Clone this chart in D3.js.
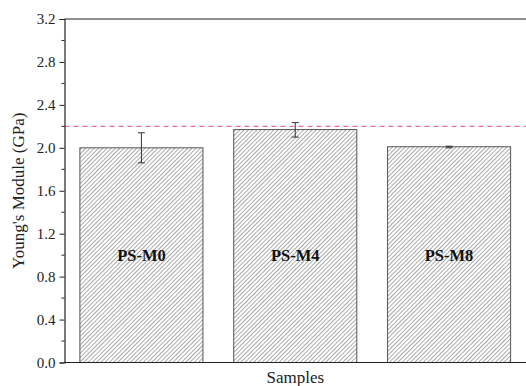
<!DOCTYPE html>
<html>
<head>
<meta charset="utf-8">
<script src="https://cdn.jsdelivr.net/npm/d3@7"></script>
<style>
  body { margin: 0; background: #fff; }
  text { font-family: "Liberation Serif", "Times New Roman", serif; }
</style>
</head>
<body>
<div id="chart"></div>
<script>
// data
const samples = ["PS-M0", "PS-M4", "PS-M8"];
const modulus = [2.00, 2.17, 2.01];
const errLow = [1.86, 2.10, 2.00];
const errHigh = [2.14, 2.235, 2.015];
const refLine = 2.2;
const yTicks = [0.0, 0.4, 0.8, 1.2, 1.6, 2.0, 2.4, 2.8, 3.2];

const W = 526, H = 386;
const margin = {top: 19, right: 0, bottom: 23.5, left: 64.5};

const svg = d3.select("#chart").append("svg")
    .attr("width", W)
    .attr("height", H);

// hatch pattern
const defs = svg.append("defs");
const pat = defs.append("pattern")
    .attr("id", "hatch")
    .attr("patternUnits", "userSpaceOnUse")
    .attr("width", 3)
    .attr("height", 3)
    .attr("patternTransform", "rotate(45)");
pat.append("rect").attr("width", 3).attr("height", 3).attr("fill", "#fff");
pat.append("line")
    .attr("x1", 0).attr("y1", 0).attr("x2", 0).attr("y2", 3)
    .attr("stroke", "#555")
    .attr("stroke-width", 1);

const x = d3.scaleBand()
    .domain(samples)
    .range([margin.left, W - margin.right])
    .paddingInner(0.2)
    .paddingOuter(0.1);

const y = d3.scaleLinear()
    .domain([0, 3.2])
    .range([H - margin.bottom, margin.top]);

// bars
svg.selectAll(".bar")
    .data(samples)
    .enter().append("rect")
    .attr("class", "bar")
    .attr("x", d => x(d))
    .attr("y", (d, i) => y(modulus[i]))
    .attr("width", x.bandwidth())
    .attr("height", (d, i) => y(0) - y(modulus[i]))
    .attr("fill", "url(#hatch)")
    .attr("stroke", "#555")
    .attr("stroke-width", 1);

// bar labels
svg.selectAll(".blabel")
    .data(samples)
    .enter().append("text")
    .attr("x", d => x(d) + x.bandwidth() / 2)
    .attr("y", y(1.0) + 6)
    .attr("text-anchor", "middle")
    .attr("font-size", 16.5)
    .attr("font-weight", "bold")
    .attr("fill", "#111")
    .text(d => d);

// error bars
const eb = svg.selectAll(".err")
    .data(samples)
    .enter().append("g");
eb.append("line")
    .attr("x1", d => x(d) + x.bandwidth() / 2)
    .attr("x2", d => x(d) + x.bandwidth() / 2)
    .attr("y1", (d, i) => y(errLow[i]))
    .attr("y2", (d, i) => y(errHigh[i]))
    .attr("stroke", "#333");
[errLow, errHigh].forEach(arr => {
    eb.append("line")
        .attr("x1", d => x(d) + x.bandwidth() / 2 - 3.5)
        .attr("x2", d => x(d) + x.bandwidth() / 2 + 3.5)
        .attr("y1", (d, i) => y(arr[i]))
        .attr("y2", (d, i) => y(arr[i]))
        .attr("stroke", "#333");
});

// reference dashed line
svg.append("line")
    .attr("x1", margin.left)
    .attr("x2", W - margin.right)
    .attr("y1", y(refLine))
    .attr("y2", y(refLine))
    .attr("stroke", "#e8738a")
    .attr("stroke-width", 1.2)
    .attr("stroke-dasharray", "5,4");

// y axis
const yAxis = svg.append("g")
    .attr("transform", `translate(${margin.left},0)`)
    .call(d3.axisLeft(y).tickValues(yTicks).tickFormat(d3.format(".1f")).tickSizeOuter(0).tickSize(5).tickPadding(4));
yAxis.select(".domain").attr("stroke", "#222").attr("stroke-width", 1.2);
yAxis.selectAll(".tick line").attr("stroke", "#222");
yAxis.selectAll("text").attr("font-size", 15).attr("fill", "#222")
    .style("font-family", "Liberation Serif");

// minor ticks
svg.append("g")
    .selectAll("line")
    .data(yTicks.slice(0, -1).map(d => d + 0.2))
    .enter().append("line")
    .attr("x1", margin.left - 3)
    .attr("x2", margin.left)
    .attr("y1", d => y(d))
    .attr("y2", d => y(d))
    .attr("stroke", "#222");

// top and bottom frame lines
svg.append("line")
    .attr("x1", margin.left).attr("x2", W)
    .attr("y1", y(3.2)).attr("y2", y(3.2))
    .attr("stroke", "#222").attr("stroke-width", 1.2);
svg.append("line")
    .attr("x1", margin.left).attr("x2", W)
    .attr("y1", y(0)).attr("y2", y(0))
    .attr("stroke", "#222").attr("stroke-width", 1.2);

// axis titles
svg.append("text")
    .attr("transform", `translate(24,${(y(0) + y(3.2)) / 2}) rotate(-90)`)
    .attr("text-anchor", "middle")
    .attr("font-size", 17)
    .attr("fill", "#222")
    .text("Young's Module (GPa)");

svg.append("text")
    .attr("x", (margin.left + W) / 2)
    .attr("y", 383)
    .attr("text-anchor", "middle")
    .attr("font-size", 17)
    .attr("fill", "#222")
    .text("Samples");
</script>
</body>
</html>
